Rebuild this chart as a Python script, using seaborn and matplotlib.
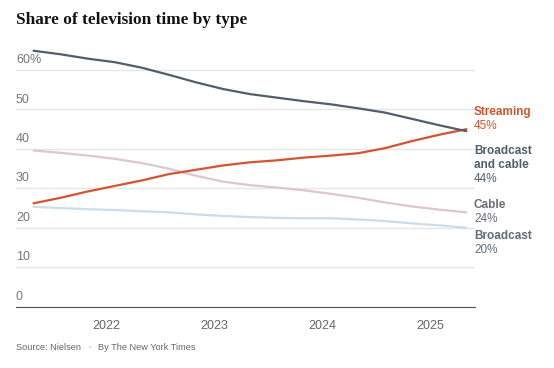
import numpy as np
import pandas as pd
import matplotlib
matplotlib.use("Agg")
import matplotlib.pyplot as plt
import seaborn as sns

# quarterly readings, May 2021 -> May 2025 (decimal years)
years = [2021.33, 2021.58, 2021.83, 2022.08, 2022.33, 2022.58, 2022.83, 2023.08,
         2023.33, 2023.58, 2023.83, 2024.08, 2024.33, 2024.58, 2024.83, 2025.08, 2025.33]
broadcast_cable = [64.9, 64.0, 62.9, 62.0, 60.6, 58.8, 56.9, 55.2, 53.9, 53.0, 52.1,
                   51.3, 50.3, 49.2, 47.6, 46.0, 44.5]
streaming = [26.2, 27.6, 29.2, 30.6, 32.0, 33.6, 34.7, 35.8, 36.6, 37.1, 37.8, 38.3,
             38.9, 40.2, 42.0, 43.6, 45.0]
cable = [39.6, 39.0, 38.3, 37.5, 36.4, 35.0, 33.2, 31.7, 30.8, 30.2, 29.5, 28.6,
         27.6, 26.4, 25.4, 24.6, 23.9]
broadcast = [25.3, 25.0, 24.7, 24.5, 24.2, 23.9, 23.4, 23.0, 22.7, 22.5, 22.4, 22.4,
             22.1, 21.7, 21.1, 20.6, 20.0]

series_names = ["Broadcast and cable", "Streaming", "Cable", "Broadcast"]
line_colors = ["#4f5f6b", "#d65330", "#dcc6d2", "#cddde8"]
text_colors = ["#4f5f6b", "#d65330", "#6f6b76", "#5d6e7a"]
# end labels: (name lines, value)
end_names = [["Broadcast", "and cable"], ["Streaming"], ["Cable"], ["Broadcast"]]
end_values = ["44%", "45%", "24%", "20%"]
end_label_top = [39.5, 49.4, 25.8, 17.9]   # y of first label line
yticks = [0, 10, 20, 30, 40, 50, 60]
ytick_labels = ["0", "10", "20", "30", "40", "50", "60%"]
xticks = [2022, 2023, 2024, 2025]

df = pd.concat([
    pd.DataFrame({"year": years, "share": vals, "type": name})
    for name, vals in zip(series_names, [broadcast_cable, streaming, cable, broadcast])
])

sns.set_style("white")
plt.rcParams["font.family"] = ["Liberation Sans", "DejaVu Sans"]

fig = plt.figure(figsize=(5.54, 3.68), dpi=100)
ax = fig.add_axes([16/554, 1 - 306.6/368, (475-16)/554, (306.6-46.4)/368])

sns.lineplot(data=df, x="year", y="share", hue="type", hue_order=series_names[::-1],
             palette=dict(zip(series_names, line_colors)), linewidth=1.6,
             legend=False, ax=ax)

ax.set_xlim(2021.168, 2025.41)
ax.set_ylim(0, 66)
ax.set_yticks(yticks)
ax.set_yticklabels([])
ax.tick_params(axis="y", length=0)
ax.grid(axis="y", color="#e6e6e6", linewidth=1)
ax.set_axisbelow(True)
for t, lab in zip(yticks, ytick_labels):
    ax.text(0, t + 1.0, lab, transform=ax.get_yaxis_transform(), ha="left",
            va="bottom", fontsize=9, color="#777777")

ax.set_xticks(xticks)
ax.set_xticklabels([str(x) for x in xticks], fontsize=9, color="#666666")
ax.tick_params(axis="x", length=4, width=1, color="#666666", pad=6)
ax.set_xlabel("")
ax.set_ylabel("")
for s in ["top", "right", "left"]:
    ax.spines[s].set_visible(False)
ax.spines["bottom"].set_color("#555555")

# end labels, one text per line (line step ~3.55 units = 14 px)
step = 3.55
lx = (474 - 16) / (475 - 16)
tr = ax.get_yaxis_transform()
tr = matplotlib.transforms.blended_transform_factory(ax.transAxes, ax.transData)
for names, val, y0, col in zip(end_names, end_values, end_label_top, text_colors):
    for i, nm in enumerate(names):
        ax.text(lx, y0 - i * step, nm, transform=tr, ha="left", va="center",
                fontsize=8.5, fontweight="bold", color=col, clip_on=False)
    ax.text(lx, y0 - len(names) * step, val, transform=tr, ha="left", va="center",
            fontsize=8.5, color=col, clip_on=False)

fig.text(16/554, 1 - 20/368, "Share of television time by type", ha="left", va="center",
         fontsize=12.4, fontweight="bold", family="Liberation Serif", color="#121212")
fig.text(16/554, 1 - 347/368, "Source: Nielsen", ha="left", va="center",
         fontsize=6.6, color="#666666")
fig.text(90/554, 1 - 347/368, "\u2022", ha="center", va="center", fontsize=5, color="#cccccc")
fig.text(98/554, 1 - 347/368, "By The New York Times", ha="left", va="center",
         fontsize=6.6, color="#666666")

fig.savefig("out.png", dpi=100)
